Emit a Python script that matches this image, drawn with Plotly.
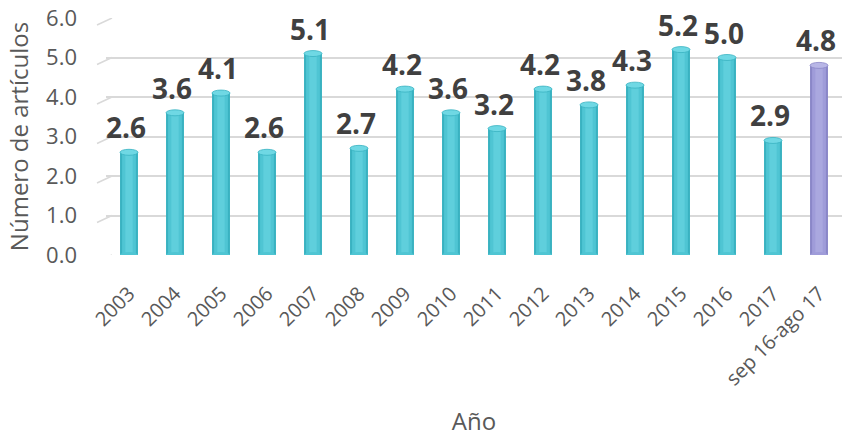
import plotly.graph_objects as go

categories = ["2003", "2004", "2005", "2006", "2007", "2008", "2009", "2010",
              "2011", "2012", "2013", "2014", "2015", "2016", "2017", "sep 16-ago 17"]
values = [2.6, 3.6, 4.1, 2.6, 5.1, 2.7, 4.2, 3.6, 3.2, 4.2, 3.8, 4.3, 5.2, 5.0, 2.9, 4.8]
labels = ["2.6", "3.6", "4.1", "2.6", "5.1", "2.7", "4.2", "3.6", "3.2", "4.2", "3.8", "4.3", "5.2", "5.0", "2.9", "4.8"]
y_ticks = [0, 1, 2, 3, 4, 5, 6]
y_ticktext = ["0.0", "1.0", "2.0", "3.0", "4.0", "5.0", "6.0"]

FONT = "Open Sans"
TEAL = dict(edge="#39b2c1", mid="#4fc5d3", hi="#5fcfdc", top="#6fd8e4")
PURP = dict(edge="#8a87c8", mid="#9f9cd9", hi="#aaa8df", top="#b8b6e6")
pal = [TEAL] * 15 + [PURP]

idx = list(range(len(categories)))

fig = go.Figure()
fig.add_trace(go.Bar(x=idx, y=values, width=0.39,
                     marker=dict(color=[p["edge"] for p in pal], line=dict(width=0)),
                     hoverinfo="skip", showlegend=False))
fig.add_trace(go.Bar(x=idx, y=values, width=0.30,
                     marker=dict(color=[p["mid"] for p in pal], line=dict(width=0)),
                     hoverinfo="skip", showlegend=False))
fig.add_trace(go.Bar(x=idx, y=values, width=0.16,
                     marker=dict(color=[p["hi"] for p in pal], line=dict(width=0)),
                     showlegend=False))

# cylinder caps
for i, v, p in zip(idx, values, pal):
    fig.add_shape(type="circle", xref="x", yref="y", xsizemode="pixel", ysizemode="pixel",
                  xanchor=i, yanchor=v, x0=-9, x1=9, y0=-3, y1=3,
                  fillcolor=p["top"], line=dict(color=p["edge"], width=0.8), layer="above")
    fig.add_shape(type="circle", xref="x", yref="y", xsizemode="pixel", ysizemode="pixel",
                  xanchor=i, yanchor=0, x0=-9, x1=9, y0=-3, y1=3,
                  fillcolor=p["mid"], line=dict(width=0), layer="above")

# slanted stubs of the 3D back-wall gridlines
for t in y_ticks:
    fig.add_shape(type="line", xref="paper", yref="y", xsizemode="pixel", ysizemode="pixel",
                  xanchor=0, yanchor=t, x0=-9, x1=6, y0=-7, y1=0,
                  line=dict(color="#d9d9d9", width=1.5), layer="below")

for i, v, t in zip(idx, values, labels):
    fig.add_annotation(x=i, y=v, text=t, showarrow=False, yanchor="bottom", yshift=4, xshift=-3,
                       font=dict(family=FONT, size=28, color="#404040", weight="bold"))

fig.update_layout(
    width=844, height=437,
    margin=dict(l=106, r=2, t=18, b=182),
    paper_bgcolor="white", plot_bgcolor="white",
    barmode="overlay",
    font=dict(family=FONT, color="#595959"),
    xaxis=dict(tickmode="array", tickvals=idx, ticktext=categories, tickangle=-45,
               tickfont=dict(size=20, color="#595959"), automargin=False,
               showgrid=False, showline=False, ticks="", zeroline=False,
               ticklabelstandoff=22,
               title=dict(text="Año", font=dict(size=24, color="#595959"), standoff=26),
               range=[-0.5, 15.5]),
    yaxis=dict(range=[0, 6], tickvals=y_ticks, ticktext=y_ticktext, automargin=False,
               tickfont=dict(size=22, color="#595959"),
               showgrid=True, gridcolor="#d9d9d9", gridwidth=1.5, zeroline=False,
               showline=False, ticks="", ticklabelstandoff=28,
               title=dict(text="Número de artículos", font=dict(size=24, color="#595959"), standoff=10)),
)

fig.write_html("out.html", config={"displayModeBar": False},
               post_script="document.body.style.margin='0px';")
